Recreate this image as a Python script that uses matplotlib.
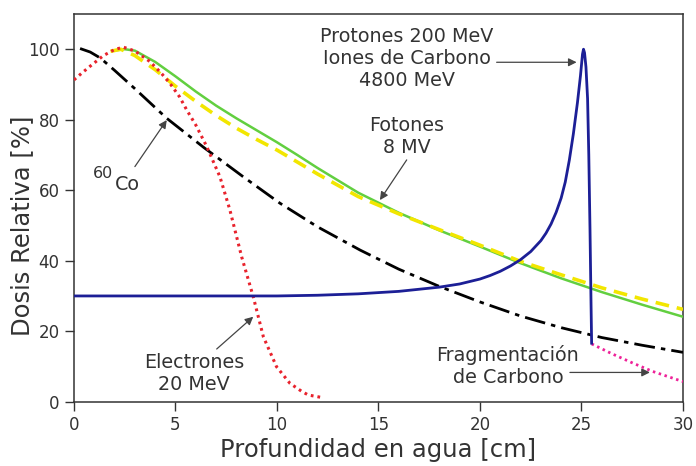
import matplotlib
matplotlib.use("Agg")
import matplotlib.pyplot as plt

# Depth-dose curves in water (relative dose, %)
co60_depth = [0.3, 0.8, 1.3, 2.0, 3.0, 4.57, 6.4, 8.34, 10.15, 12.0, 14.1, 16.0, 18.0, 20.0,
              22.0, 24.0, 26.0, 28.0, 30.0]
co60_dose = [100.2, 99.2, 97.5, 94.0, 88.8, 80.4, 72.1, 63.8, 56.3, 49.6, 43.0, 37.6, 32.7, 28.3,
             24.3, 21.0, 18.2, 16.0, 14.0]

photon_depth = [1.9, 2.5, 3.0, 4.0, 5.0, 6.0, 7.0, 8.0, 9.0, 10.0, 11.0, 12.0, 14.0, 16.0, 18.0,
                20.0, 22.0, 24.0, 26.0, 28.0, 30.0]
photon_dose = [99.6, 100.0, 99.6, 96.4, 92.3, 88.0, 84.0, 80.4, 77.0, 73.6, 70.0, 66.3, 59.3, 53.6,
               48.6, 44.0, 39.3, 35.0, 31.1, 27.5, 24.1]

photon2_depth = [1.8, 2.3, 3.0, 4.0, 5.0, 6.0, 7.0, 8.0, 9.0, 10.0, 11.0, 12.0, 14.0, 16.0, 18.0,
                 20.0, 22.0, 24.0, 26.0, 28.0, 30.0]
photon2_dose = [99.4, 100.0, 98.2, 94.2, 89.5, 85.2, 81.2, 77.6, 74.4, 71.4, 68.0, 64.6, 58.2, 53.3,
                48.8, 44.4, 39.8, 36.0, 32.3, 29.1, 26.2]

electron_depth = [0.0, 0.4, 0.8, 1.45, 2.0, 2.43, 3.0, 3.74, 4.3, 4.73, 5.2, 5.55, 6.0, 6.53, 7.19,
                  7.68, 8.26, 8.83, 9.33, 9.98, 10.64, 11.2, 11.54, 12.2]
electron_dose = [91.3, 93.3, 95.2, 98.2, 99.9, 100.6, 99.5, 96.5, 93.2, 90.3, 86.5, 82.8, 78.5, 72.5,
                 63.8, 54.4, 41.1, 29.8, 18.4, 9.9, 5.2, 3.0, 1.9, 1.2]

proton_depth = [0.0, 4.0, 8.0, 10.0, 12.0, 14.0, 16.0, 18.0, 19.0, 20.0, 20.5, 21.0, 21.5, 22.0,
                22.5, 23.0, 23.25, 23.5, 23.75, 24.0, 24.2, 24.4, 24.6, 24.8, 24.95, 25.05, 25.1,
                25.15, 25.22, 25.3, 25.36, 25.42, 25.47, 25.5]
proton_dose = [30.0, 30.0, 30.0, 30.0, 30.2, 30.6, 31.3, 32.5, 33.4, 34.8, 35.8, 37.0, 38.5, 40.3,
               42.6, 45.7, 47.8, 50.4, 53.7, 57.8, 62.3, 68.5, 76.0, 84.8, 92.5, 98.6, 100.0,
               99.0, 95.0, 86.0, 70.0, 48.7, 28.0, 16.6]

frag_depth = [25.5, 26.5, 27.55, 28.5, 30.0]
frag_dose = [16.4, 13.6, 10.9, 8.6, 5.7]

x_ticks = [0, 5, 10, 15, 20, 25, 30]
y_ticks = [0, 20, 40, 60, 80, 100]

TEXT = "#333333"
AX = "#333333"

fig = plt.figure(figsize=(6.96, 4.66), dpi=100)
ax = fig.add_axes([0.1063, 0.138, 0.875, 0.832])

ax.plot(co60_depth, co60_dose, color="black", lw=2.0, linestyle=(0, (7.5, 2.2, 1.6, 2.2)), zorder=3)
ax.plot(photon_depth, photon_dose, color="#62cf40", lw=1.8, zorder=3)
ax.plot(photon2_depth, photon2_dose, color="#f2e600", lw=2.6, linestyle=(0, (3.8, 2.2)), zorder=4)
ax.plot(electron_depth, electron_dose, color="#e8222c", lw=2.2, linestyle=(0, (0.9, 1.3)), zorder=4)
ax.plot(proton_depth, proton_dose, color="#1c1f96", lw=2.0, zorder=5)
ax.plot(frag_depth, frag_dose, color="#ee2299", lw=2.0, linestyle=(0, (0.9, 1.3)), zorder=4)

ax.set_xlim(0, 30)
ax.set_ylim(0, 110)
ax.set_xticks(x_ticks)
ax.set_yticks(y_ticks)
ax.tick_params(direction="out", length=6.5, width=1, pad=4, colors=AX, labelsize=12,
               labelcolor=TEXT)
for s in ax.spines.values():
    s.set_color(AX)
    s.set_linewidth(1.1)

ax.set_xlabel("Profundidad en agua [cm]", fontsize=17.5, color=TEXT, labelpad=3)
ax.set_ylabel("Dosis Relativa [%]", fontsize=17.5, color=TEXT)
ax.yaxis.set_label_coords(-0.066, 0.453)

arrow = dict(arrowstyle="-|>", color="#444444", lw=0.9, mutation_scale=12, shrinkA=0, shrinkB=0)
fs = 13.8

ax.text(16.4, 97.4, "Protones 200 MeV\nIones de Carbono\n4800 MeV", ha="center", va="center",
        fontsize=fs, color=TEXT, linespacing=1.2)
ax.annotate("", xy=(24.76, 96.3), xytext=(20.82, 96.3), arrowprops=arrow)

ax.text(16.4, 75.3, "Fotones\n8 MV", ha="center", va="center", fontsize=fs, color=TEXT,
        linespacing=1.2)
ax.annotate("", xy=(15.07, 57.2), xytext=(16.39, 68.6), arrowprops=arrow)

ax.text(1.92, 64.8, "60", ha="right", va="center", fontsize=11.5, color=TEXT)
ax.text(2.02, 61.5, "Co", ha="left", va="center", fontsize=fs, color=TEXT)
ax.annotate("", xy=(4.57, 79.9), xytext=(3.0, 66.7), arrowprops=arrow)

ax.text(5.91, 7.9, "Electrones\n20 MeV", ha="center", va="center", fontsize=fs, color=TEXT,
        linespacing=1.2)
ax.annotate("", xy=(8.83, 24.1), xytext=(7.03, 14.95), arrowprops=arrow)

ax.text(21.38, 10.1, "Fragmentación\nde Carbono", ha="center", va="center", fontsize=fs,
        color=TEXT, linespacing=1.2)
ax.annotate("", xy=(28.37, 8.3), xytext=(24.43, 8.3), arrowprops=arrow)

fig.savefig("out.png", dpi=100)
